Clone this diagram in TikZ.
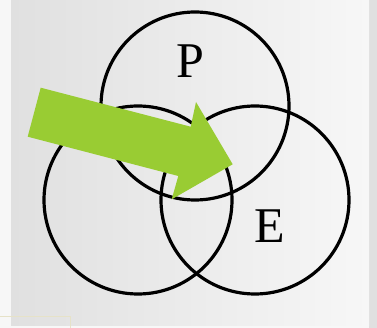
\documentclass[tikz,border=0pt]{standalone}
\usepackage{fontspec}
\setmainfont{Liberation Serif}
\definecolor{bgwhite}{HTML}{F7F7F7}
\definecolor{bggray}{HTML}{E0E0E0}
\definecolor{bgmid}{HTML}{F1F1F1}
\definecolor{arrowgreen}{HTML}{99CC33}
\definecolor{beigeline}{HTML}{E6E2C8}
\begin{document}
\begin{tikzpicture}[x=1pt,y=-1pt,
  ring/.style={circle, draw=black, line width=3.2pt, minimum size=188pt, inner sep=0pt},
  letter/.style={inner sep=0pt, font=\fontsize{50}{50}\selectfont}]
\useasboundingbox (0,0) rectangle (377,328);
\fill[bgwhite] (0,0) rectangle (377,328);
\fill[bggray] (369,0) rectangle (377,328);
\shade[left color=bggray, middle color=bgmid, right color=bgwhite] (11,0) rectangle (369,325);
\draw[beigeline, line width=1pt] (0,316) -- (70,316) -- (70,328);
\node[ring] (top) at (195,106) {};
\node[ring] (left) at (138,200) {};
\node[ring] (right) at (255,200) {};
\fill[arrowgreen] (40.7,87.7) -- (190.7,126.7) -- (196,102) -- (232.7,164.3)
  -- (171.7,199.3) -- (178.3,176) -- (27.7,136.7) -- cycle;
\node[letter] (P) at (190,61.5) {P};
\node[letter] (E) at (269.7,225.7) {E};
\end{tikzpicture}
\end{document}
